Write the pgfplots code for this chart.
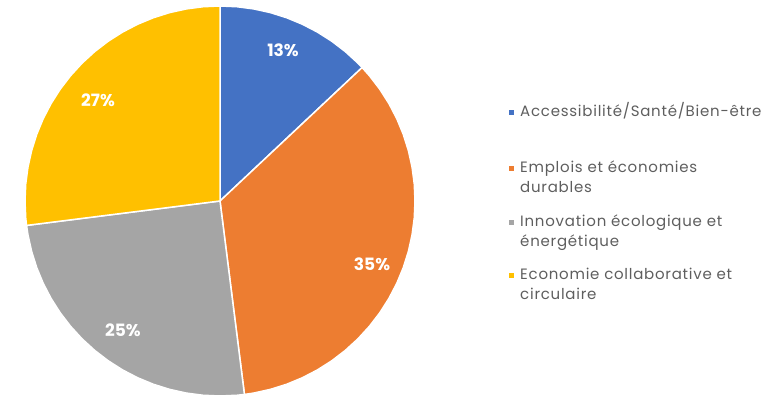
\documentclass[border=0pt]{standalone}
\usepackage{pgfplots}
\pgfplotsset{compat=1.18}
\usepackage{fontspec}
\setmainfont{Poppins}
\newfontfamily\legfont[LetterSpace=5.0]{Poppins}
\definecolor{cBlue}{HTML}{4472C4}
\definecolor{cOrange}{HTML}{ED7D31}
\definecolor{cGray}{HTML}{A5A5A5}
\definecolor{cYellow}{HTML}{FFC000}
\definecolor{cText}{HTML}{5E5E5E}
\begin{document}
\begin{tikzpicture}
\begin{axis}[
  width=783pt, height=401pt, scale only axis,
  xmin=-220, xmax=563, ymin=-200, ymax=201,
  hide axis, clip=false,
]
\path (rel axis cs:0,0) (rel axis cs:1,1);
% Shares: 13%, 35%, 25%, 27% -> 46.8, 126, 90, 97.2 degrees, clockwise from the top
\addplot[fill=cBlue, draw=white, line width=1.5pt, data cs=polar] coordinates {
(0,0) (90,195) (85,195) (80,195) (75,195) (70,195) (65,195) (60,195) (55,195) (50,195) (45,195) (43.2,195)} -- cycle;
\addplot[fill=cOrange, draw=white, line width=1.5pt, data cs=polar] coordinates {
(0,0) (43.2,195) (40,195) (35,195) (30,195) (25,195) (20,195) (15,195) (10,195) (5,195) (0,195)
(-5,195) (-10,195) (-15,195) (-20,195) (-25,195) (-30,195) (-35,195) (-40,195) (-45,195) (-50,195)
(-55,195) (-60,195) (-65,195) (-70,195) (-75,195) (-80,195) (-82.8,195)} -- cycle;
\addplot[fill=cGray, draw=white, line width=1.5pt, data cs=polar] coordinates {
(0,0) (-82.8,195) (-85,195) (-90,195) (-95,195) (-100,195) (-105,195) (-110,195) (-115,195) (-120,195)
(-125,195) (-130,195) (-135,195) (-140,195) (-145,195) (-150,195) (-155,195) (-160,195) (-165,195)
(-170,195) (-172.8,195)} -- cycle;
\addplot[fill=cYellow, draw=white, line width=1.5pt, data cs=polar] coordinates {
(0,0) (-172.8,195) (-175,195) (-180,195) (-185,195) (-190,195) (-195,195) (-200,195) (-205,195) (-210,195)
(-215,195) (-220,195) (-225,195) (-230,195) (-235,195) (-240,195) (-245,195) (-250,195) (-255,195)
(-260,195) (-265,195) (-270,195)} -- cycle;
% slice labels
\begin{scope}[every node/.style={text=white, font=\fontsize{17}{18}\selectfont\bfseries}]
\node at (axis cs:63,151) {13\%};
\node at (axis cs:152,-63) {35\%};
\node at (axis cs:-97,-129) {25\%};
\node at (axis cs:-122,101) {27\%};
\end{scope}
% legend bullets
\addplot[only marks, mark=square*, mark size=2pt, color=cBlue] coordinates {(291,89)};
\addplot[only marks, mark=square*, mark size=2pt, color=cOrange] coordinates {(291,33)};
\addplot[only marks, mark=square*, mark size=2pt, color=cGray] coordinates {(291,-21)};
\addplot[only marks, mark=square*, mark size=2pt, color=cYellow] coordinates {(291,-74)};
% legend text
\begin{scope}[every node/.style={anchor=base west, inner sep=0pt, text=cText, font=\legfont\fontsize{15}{17}\selectfont}]
\node at (axis cs:300,84) {Accessibilité/Santé/Bien-être};
\node at (axis cs:300,28) {Emplois et économies};
\node at (axis cs:300,8) {durables};
\node at (axis cs:300,-26) {Innovation écologique et};
\node at (axis cs:300,-46) {énergétique};
\node at (axis cs:300,-79) {Economie collaborative et};
\node at (axis cs:300,-99) {circulaire};
\end{scope}
\end{axis}
\end{tikzpicture}
\end{document}
